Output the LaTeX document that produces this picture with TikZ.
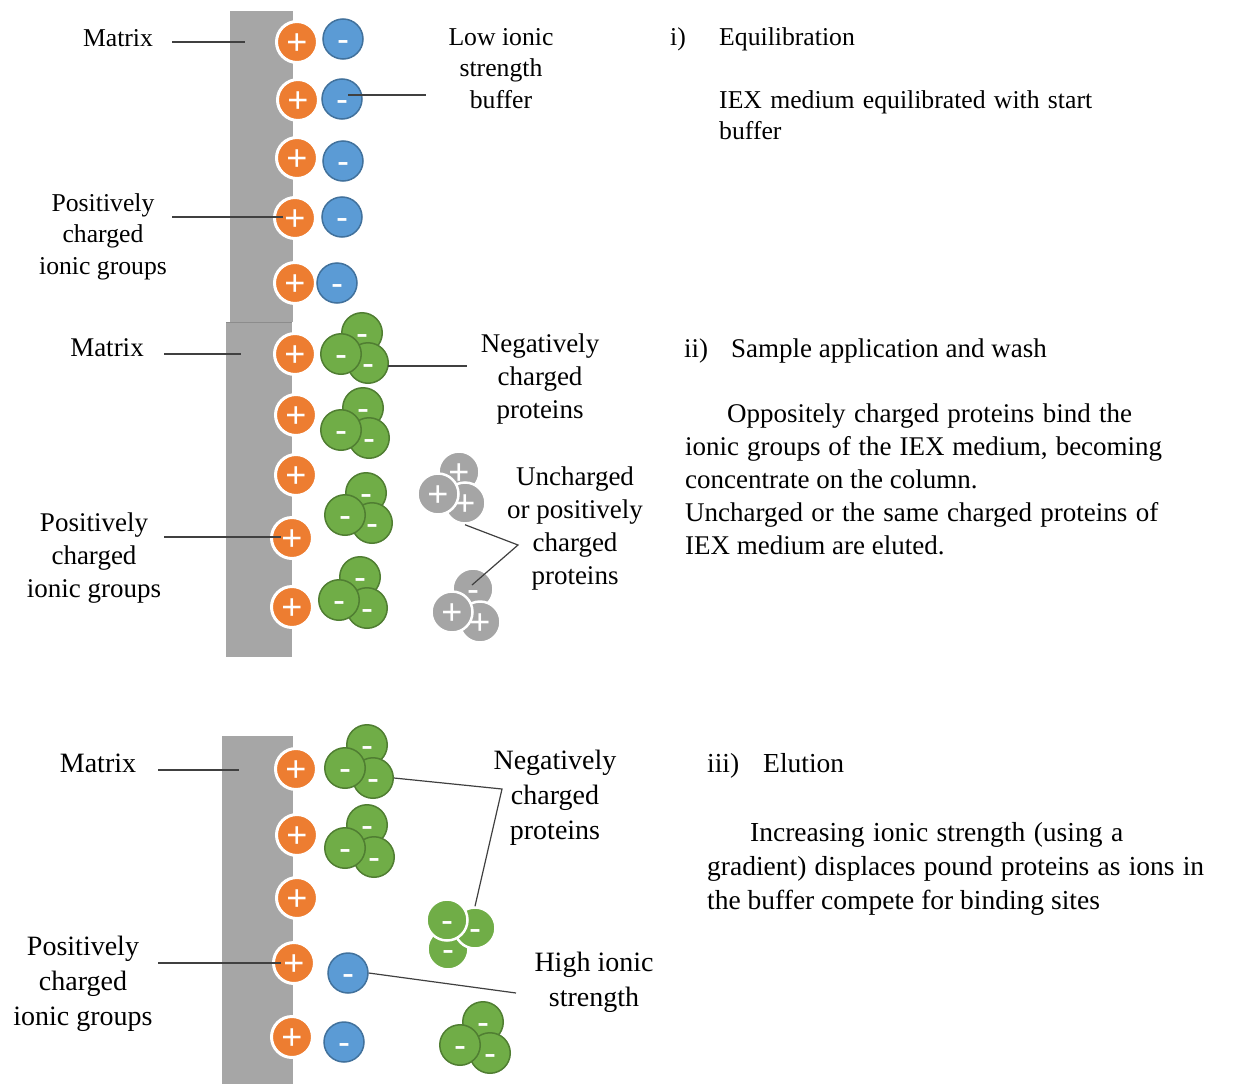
\documentclass[tikz,border=0pt]{standalone}
\usepackage{fontspec}
\setmainfont{Liberation Serif}
\newfontfamily\signfont{Liberation Sans}
\definecolor{orng}{HTML}{ED7D31}
\definecolor{blu}{HTML}{5B9BD5}
\definecolor{bluedge}{HTML}{41719C}
\definecolor{grn}{HTML}{70AD47}
\definecolor{grnedge}{HTML}{507E32}
\definecolor{gry}{HTML}{A5A5A5}
\definecolor{mtx}{HTML}{A6A6A6}
\definecolor{lineclr}{HTML}{404040}
\newcommand{\jline}[2]{\makebox[#1][s]{#2}}
\begin{document}
\begin{tikzpicture}[x=1pt,y=-1pt,
  sgn/.style={text=white, font=\signfont\fontsize{36}{40}\selectfont, text height=32.6pt, text depth=7.6pt, inner sep=0pt},
  opos/.style={circle, fill=orng, draw=white, line width=3pt, minimum size=41pt, inner sep=0pt, label={[sgn]center:+}},
  bneg/.style={circle, fill=blu, draw=bluedge, line width=1.5pt, minimum size=40pt, inner sep=0pt, label={[sgn]center:-}},
  gneg/.style={circle, fill=grn, draw=grnedge, line width=1.5pt, minimum size=40.5pt, inner sep=0pt, label={[sgn]center:-}},
  gnegw/.style={circle, fill=grn, draw=white, line width=2.5pt, minimum size=41pt, inner sep=0pt, label={[sgn]center:-}},
  ypos/.style={circle, fill=gry, draw=white, line width=2.5pt, minimum size=41pt, inner sep=0pt, label={[sgn]center:+}},
  yneg/.style={circle, fill=gry, draw=white, line width=2.5pt, minimum size=41pt, inner sep=0pt, label={[sgn]center:-}},
  lbl/.style={align=center, anchor=base, inner sep=0pt},
  par/.style={align=left, anchor=base west, inner sep=0pt},
  fa/.style={font=\fontsize{25.7}{31.5}\selectfont},
  fb/.style={font=\fontsize{27}{33}\selectfont},
  fc/.style={font=\fontsize{28}{35}\selectfont},
  fcp/.style={font=\fontsize{27.5}{34}\selectfont},
  conn/.style={draw=lineclr, line width=1.2pt},
]
\useasboundingbox (0,0) rectangle (1240,1084);
% note: for multi-line nodes the base anchor is the baseline of the last line

% ---------------- matrix bars
\fill[mtx] (230,11) rectangle (293,322);
\fill[mtx] (226,322) rectangle (292,657);
\draw[black!45, line width=0.8pt] (226,322) -- (292,322);
\fill[mtx] (222,736) rectangle (293,1084);

% ================= panel i
\node (o11) [opos] at (297,42) {};
\node (o12) [opos] at (298,100) {};
\node (o13) [opos] at (297,158) {};
\node (o14) [opos] at (295,218) {};
\node (o15) [opos] at (295,283) {};
\node (b11) [bneg] at (343,39) {};
\node (b12) [bneg] at (342,99) {};
\node (b13) [bneg] at (343,161) {};
\node (b14) [bneg] at (342,217) {};
\node (b15) [bneg] at (337,283) {};

\node (mat1) [lbl, fa] at (118,46) {Matrix};
\node (pcig1) [lbl, fa] at (103,274) {Positively\\charged\\ionic groups};
\node (lisb) [lbl, fa] at (501,108) {Low ionic\\strength\\buffer};
\node (t1n) [par, fa] at (670,45) {i)};
\node (t1h) [par, fa] at (719,45) {Equilibration};
\node (t1p) [par, fa] at (719,139.5) {\jline{373pt}{IEX medium equilibrated with start}\\buffer};

\coordinate (m1s) at (172,42);
\coordinate (m1e) at (245,42);
\coordinate (p1s) at (172,217);
\coordinate (p1e) at (283,217);
\coordinate (l1s) at (348,95);
\coordinate (l1e) at (426,95);
\draw[conn] (m1s) -- (m1e);
\draw[conn] (p1s) -- (p1e);
\draw[conn] (l1s) -- (l1e);

% ================= panel ii
\node (o21) [opos] at (295,354) {};
\node (o22) [opos] at (296,415) {};
\node (o23) [opos] at (296,475) {};
\node (o24) [opos] at (292,538) {};
\node (o25) [opos] at (292,607) {};

\node (c1t) [gneg] at (362,333) {};
\node (c1r) [gneg] at (368,363) {};
\node (c1l) [gneg] at (341,354) {};
\node (c2t) [gneg] at (363,408) {};
\node (c2r) [gneg] at (369,438) {};
\node (c2l) [gneg] at (341,430) {};
\node (c3t) [gneg] at (366,493) {};
\node (c3r) [gneg] at (372,523) {};
\node (c3l) [gneg] at (345,515) {};
\node (c4t) [gneg] at (360,577) {};
\node (c4r) [gneg] at (367,608) {};
\node (c4l) [gneg] at (339,600) {};

\node (gAt) [ypos] at (459,472) {};
\node (gAr) [ypos] at (465,503) {};
\node (gAl) [ypos] at (438,494) {};
\node (gBt) [yneg] at (473,589) {};
\node (gBr) [ypos] at (480,622) {};
\node (gBl) [ypos] at (452,612) {};

\node (mat2) [lbl, fb] at (107,356) {Matrix};
\node (pcig2) [lbl, fb] at (94,597) {Positively\\charged\\ionic groups};
\node (ncp2) [lbl, fb] at (540,418) {Negatively\\charged\\proteins};
\node (ucp) [lbl, fb] at (575,584) {Uncharged\\or positively\\charged\\proteins};
\node (t2n) [par, fb] at (684,357) {ii)};
\node (t2h) [par, fb] at (731,357) {Sample application and wash};
\node (t2p) [par, fb] at (685,554) {\hspace*{42pt}\jline{405pt}{Oppositely charged proteins bind the}\\\jline{477pt}{ionic groups of the IEX medium, becoming}\\concentrate on the column.\\\jline{473pt}{Uncharged or the same charged proteins of}\\IEX medium are eluted.};

\coordinate (m2s) at (164,354);
\coordinate (m2e) at (241,354);
\coordinate (p2s) at (164,537);
\coordinate (p2e) at (281,537);
\coordinate (n2s) at (388,366);
\coordinate (n2e) at (467,366);
\coordinate (u2v) at (518,545);
\coordinate (u2e) at (472,585);
\draw[conn] (m2s) -- (m2e);
\draw[conn] (p2s) -- (p2e);
\draw[conn] (n2s) -- (n2e);
\draw[conn] (gAr.south) -- (u2v) -- (u2e);

% ================= panel iii
\node (o31) [opos] at (296,769) {};
\node (o32) [opos] at (297,835) {};
\node (o33) [opos] at (297,898) {};
\node (o34) [opos] at (294,963) {};
\node (o35) [opos] at (292,1037) {};

\node (c5t) [gneg] at (367,745) {};
\node (c5r) [gneg] at (373,778) {};
\node (c5l) [gneg] at (345,768) {};
\node (c6t) [gneg] at (367,825) {};
\node (c6r) [gneg] at (374,857) {};
\node (c6l) [gneg] at (345,848) {};

\node (fb) [gnegw] at (448,949) {};
\node (fr) [gnegw] at (475,928) {};
\node (ftl) [gnegw] at (447,920) {};

\node (c7t) [gneg] at (483,1022) {};
\node (c7r) [gneg] at (490,1053) {};
\node (c7l) [gneg] at (460,1045) {};

\node (b31) [bneg] at (348,973) {};
\node (b32) [bneg] at (344,1042) {};

\node (mat3) [lbl, fc] at (98,772) {Matrix};
\node (pcig3) [lbl, fc] at (83,1025) {Positively\\charged\\ionic groups};
\node (ncp3) [lbl, fc] at (555,839) {Negatively\\charged\\proteins};
\node (hisg) [lbl, fc] at (594,1006) {High ionic\\strength};
\node (t3n) [par, fcp] at (707,772) {iii)};
\node (t3h) [par, fcp] at (763,772) {Elution};
\node (t3p) [par, fcp] at (707,909) {\hspace*{43pt}\jline{373pt}{Increasing ionic strength (using a}\\\jline{497pt}{gradient) displaces pound proteins as ions in}\\the buffer compete for binding sites};

\coordinate (m3s) at (158,770);
\coordinate (m3e) at (239,770);
\coordinate (p3s) at (158,963);
\coordinate (p3e) at (281,963);
\coordinate (n3v) at (502,789);
\coordinate (h3e) at (516,993);
\draw[conn] (m3s) -- (m3e);
\draw[conn] (p3s) -- (p3e);
\draw[conn] (c5r.east) -- (n3v) -- (fr.north);
\draw[conn] (b31.east) -- (h3e);
\end{tikzpicture}
\end{document}
